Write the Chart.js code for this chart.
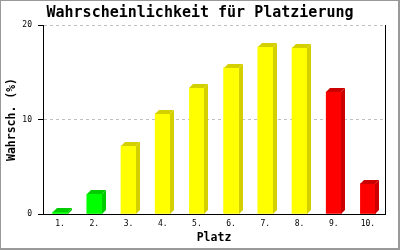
<!DOCTYPE html>
<html>
<head>
<meta charset="utf-8">
<script src="https://cdn.jsdelivr.net/npm/chart.js@4/dist/chart.umd.min.js"></script>
<style>
  html, body { margin: 0; padding: 0; background: #fff; }
  #wrap { width: 400px; height: 250px; position: relative; }
</style>
</head>
<body>
<div id="wrap"><canvas id="c" width="400" height="250"></canvas></div>
<script>
const categories = ['1.', '2.', '3.', '4.', '5.', '6.', '7.', '8.', '9.', '10.'];
const values = [0.2, 2.1, 7.2, 10.6, 13.3, 15.5, 17.7, 17.6, 12.9, 3.2];
const frontColors = ['#00ff00', '#00ff00', '#ffff00', '#ffff00', '#ffff00', '#ffff00', '#ffff00', '#ffff00', '#ff0000', '#ff0000'];
const sideColors = ['#00cc00', '#00cc00', '#d4d000', '#d4d000', '#d4d000', '#d4d000', '#d4d000', '#d4d000', '#cc0000', '#cc0000'];
const yTicks = [0, 10, 20];
const titleText = 'Wahrscheinlichkeit für Platzierung';
const xTitle = 'Platz';
const yTitle = 'Wahrsch. (%)';

const MONO = "'DejaVu Sans Mono', 'Liberation Mono', monospace";

const frame = {
  id: 'frame',
  beforeDraw(chart) {
    const ctx = chart.ctx;
    ctx.save();
    ctx.fillStyle = '#fff';
    ctx.fillRect(0, 0, chart.width, chart.height);
    ctx.restore();
  },
  afterDraw(chart) {
    const ctx = chart.ctx;
    ctx.save();
    ctx.fillStyle = '#999';
    ctx.fillRect(0, 0, chart.width, 1);
    ctx.fillRect(0, 0, 1, chart.height);
    ctx.fillRect(chart.width - 2, 0, 2, chart.height);
    ctx.fillRect(0, chart.height - 2, chart.width, 2);
    ctx.restore();
  }
};

const bars3d = {
  id: 'bars3d',
  afterDatasetsDraw(chart) {
    const ctx = chart.ctx;
    const meta = chart.getDatasetMeta(0);
    const d = 4;
    ctx.save();
    meta.data.forEach((bar, i) => {
      const p = bar.getProps(['x', 'y', 'base', 'width'], true);
      const x0 = Math.round(p.x - p.width / 2);
      const x1 = x0 + Math.round(p.width);
      const top = Math.round(p.y);
      const base = Math.round(p.base);
      ctx.fillStyle = sideColors[i];
      ctx.beginPath();
      ctx.moveTo(x0, top);
      ctx.lineTo(x1, top);
      ctx.lineTo(x1 + d, top - d);
      ctx.lineTo(x0 + d, top - d);
      ctx.closePath();
      ctx.fill();
      ctx.beginPath();
      ctx.moveTo(x1, top);
      ctx.lineTo(x1 + d, top - d);
      ctx.lineTo(x1 + d, base - d);
      ctx.lineTo(x1, base);
      ctx.closePath();
      ctx.fill();
    });
    ctx.restore();
  }
};

new Chart(document.getElementById('c'), {
  type: 'bar',
  data: {
    labels: categories,
    datasets: [{
      data: values,
      backgroundColor: frontColors,
      borderWidth: 0,
      barThickness: 15,
      yAxisID: 'y'
    }]
  },
  options: {
    responsive: false,
    animation: false,
    devicePixelRatio: 1,
    layout: { padding: 0 },
    plugins: {
      legend: { display: false },
      tooltip: { enabled: false },
      title: {
        display: true,
        text: titleText,
        color: '#000',
        font: { family: MONO, size: 15, weight: 'bold', lineHeight: 1.2 },
        padding: { top: 4, bottom: 3 }
      }
    },
    scales: {
      x: {
        type: 'category',
        grid: { display: false, drawTicks: false },
        border: { display: true, color: '#000', width: 1 },
        ticks: {
          color: '#000',
          font: { family: MONO, size: 8 },
          padding: 5,
          maxRotation: 0,
          autoSkip: false
        },
        title: {
          display: true,
          text: xTitle,
          color: '#000',
          font: { family: MONO, size: 11.5, weight: 'bold', lineHeight: 1.2 },
          padding: { top: 0, bottom: 5 }
        },
        afterFit(scale) { scale.height = 36; }
      },
      y: {
        position: 'left',
        min: 0,
        max: 20,
        afterBuildTicks(scale) { scale.ticks = yTicks.map(v => ({ value: v })); },
        grid: {
          color: (c) => (c.tick && c.tick.value === 0) ? 'rgba(0,0,0,0)' : '#c0c0c0',
          tickColor: '#000',
          tickLength: 5,
          lineWidth: 1
        },
        border: { display: true, color: '#000', width: 1, dash: [3, 3] },
        ticks: {
          color: '#000',
          font: { family: MONO, size: 8 },
          padding: 6
        },
        title: {
          display: true,
          text: yTitle,
          color: '#000',
          font: { family: MONO, size: 11.5, weight: 'bold', lineHeight: 1.2 },
          padding: { top: 5, bottom: 0 }
        },
        afterFit(scale) { scale.width = 43; }
      },
      y2: {
        position: 'right',
        display: true,
        min: 0,
        max: 20,
        grid: { display: false, drawTicks: false },
        border: { display: true, color: '#000', width: 1 },
        ticks: { display: false },
        afterFit(scale) { scale.width = 15; }
      }
    }
  },
  plugins: [frame, bars3d]
});
</script>
</body>
</html>
